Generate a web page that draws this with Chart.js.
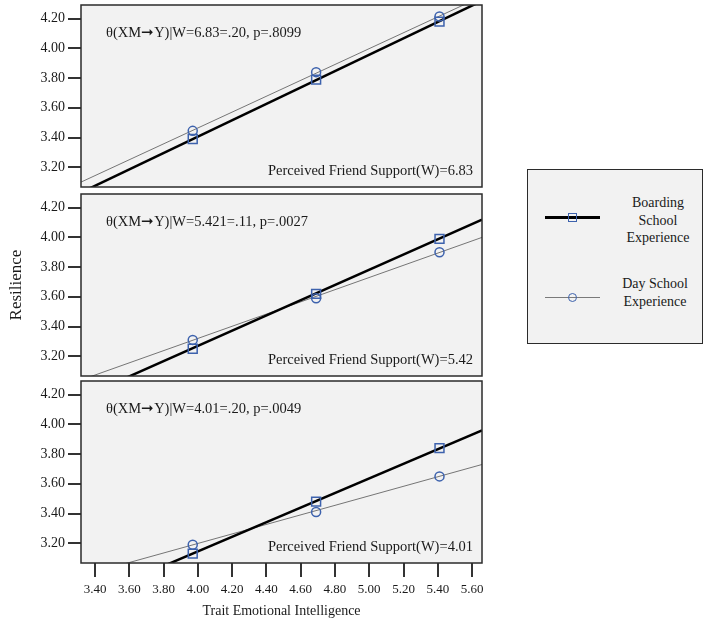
<!DOCTYPE html>
<html>
<head>
<meta charset="utf-8">
<script src="https://cdn.jsdelivr.net/npm/chart.js@4.4.1/dist/chart.umd.min.js"></script>
<style>
    body { margin: 0; background: #fff; width: 708px; height: 624px; position: relative; overflow: hidden;
           font-family: "Liberation Serif", "Times New Roman", serif; color: #1a1a1a; }
    canvas { position: absolute; left: 0; }
    #legend { position: absolute; left: 527px; top: 169px; width: 176px; height: 175px; box-sizing: border-box;
              border: 1.5px solid #2b2b2b; background: #f2f2f2; }
    .sample { position: absolute; left: 17px; width: 55px; }
    .mark { position: absolute; box-sizing: border-box; border: 1.5px solid #3d62ad; }
    .entry { position: absolute; width: 110px; text-align: center; font-size: 14px; line-height: 17.5px; }
</style>
</head>
<body>
<canvas id="panelHigh" width="490" height="190" style="top:0"></canvas>
<canvas id="panelMid" width="490" height="188" style="top:190px"></canvas>
<canvas id="panelLow" width="490" height="246" style="top:378px"></canvas>

<div id="legend">
    <div class="sample" style="top:46px;height:2.5px;background:#000"></div>
    <div class="mark" style="left:40px;top:43px;width:9px;height:9px"></div>
    <div class="entry" style="left:75px;top:24px">Boarding<br>School<br>Experience</div>
    <div class="sample" style="top:127px;height:1px;background:#7a7a7a"></div>
    <div class="mark" style="left:40px;top:123px;width:9px;height:9px;border-radius:50%"></div>
    <div class="entry" style="left:72px;top:105px">Day School<br>Experience</div>
</div>

<script>
const teiValues = [3.97, 4.69, 5.41];
const teiRange = [3.318, 5.658];
const resilienceRange = [3.067, 4.292];
const xTicks = [3.4, 3.6, 3.8, 4.0, 4.2, 4.4, 4.6, 4.8, 5.0, 5.2, 5.4, 5.6];
const yTicks = [3.2, 3.4, 3.6, 3.8, 4.0, 4.2];

const supportLevels = ['6.83', '5.42', '4.01'];
const effectLabels = [
    'θ(XM➞Y)|W=6.83=.20, p=.8099',
    'θ(XM➞Y)|W=5.421=.11, p=.0027',
    'θ(XM➞Y)|W=4.01=.20, p=.0049'
];

// moyennes aux trois niveaux de X
const boardingHigh = [3.39, 3.79, 4.18];
const boardingMid = [3.25, 3.62, 3.99];
const boardingLow = [3.13, 3.48, 3.84];
const dayHigh = [3.445, 3.84, 4.215];
const dayMid = [3.31, 3.59, 3.90];
const dayLow = [3.19, 3.41, 3.65];

// valeurs des droites aux bords de l'axe X
const boardingFitHigh = [3.03, 4.32];
const boardingFitMid = [2.92, 4.12];
const boardingFitLow = [2.81, 3.96];
const dayFitHigh = [3.10, 4.35];
const dayFitMid = [3.04, 4.00];
const dayFitLow = [2.98, 3.73];

const FONT = '"Liberation Serif", "Times New Roman", serif';
const BLUE = '#3d62ad';

const panelPlugin = {
    id: 'panel',
    beforeDraw(chart) {
        const { ctx, chartArea: a } = chart;
        ctx.save();
        ctx.fillStyle = '#f2f2f2';
        ctx.fillRect(a.left, a.top, a.right - a.left, a.bottom - a.top);
        ctx.restore();
    },
    beforeDatasetsDraw(chart, args, opts) {
        const { ctx, chartArea: a } = chart;
        ctx.save();
        ctx.font = '14.5px ' + FONT;
        ctx.fillStyle = '#1a1a1a';
        ctx.textBaseline = 'middle';
        ctx.textAlign = 'left';
        ctx.fillText(opts.effect, a.left + 25, a.top + 28);
        ctx.textAlign = 'right';
        ctx.fillText('Perceived Friend Support(W)=' + opts.level, a.right - 9, a.bottom - 16);
        ctx.restore();
    },
    afterDraw(chart) {
        const { ctx, chartArea: a } = chart;
        ctx.save();
        ctx.strokeStyle = '#2b2b2b';
        ctx.lineWidth = 1.5;
        ctx.strokeRect(a.left, a.top, a.right - a.left, a.bottom - a.top);
        ctx.restore();
    }
};

function toPoints(xs, ys) {
    return xs.map((x, i) => ({ x, y: ys[i] }));
}

function desenharPainel(id, i, boarding, day, boardingFit, dayFit, padding, bottom, middle) {
    const ctx = document.getElementById(id).getContext('2d');
    new Chart(ctx, {
        type: 'scatter',
        data: {
            datasets: [
                {
                    label: 'Boarding School Experience',
                    data: toPoints(teiValues, boarding),
                    pointStyle: 'rect',
                    pointRadius: 6.3,
                    pointBorderWidth: 1.5,
                    pointBorderColor: BLUE,
                    pointBackgroundColor: 'rgba(0,0,0,0)'
                },
                {
                    label: 'Day School Experience',
                    data: toPoints(teiValues, day),
                    pointStyle: 'circle',
                    pointRadius: 4.5,
                    pointBorderWidth: 1.5,
                    pointBorderColor: BLUE,
                    pointBackgroundColor: 'rgba(0,0,0,0)'
                },
                {
                    data: toPoints(teiRange, boardingFit),
                    showLine: true,
                    borderColor: '#000',
                    borderWidth: 2.5,
                    pointRadius: 0,
                    clip: 0
                },
                {
                    data: toPoints(teiRange, dayFit),
                    showLine: true,
                    borderColor: '#757575',
                    borderWidth: 1,
                    pointRadius: 0,
                    clip: 0
                }
            ]
        },
        options: {
            responsive: false,
            animation: false,
            events: [],
            layout: { padding, autoPadding: false },
            plugins: {
                legend: { display: false },
                tooltip: { enabled: false },
                panel: { effect: effectLabels[i], level: supportLevels[i] }
            },
            scales: {
                x: {
                    type: 'linear',
                    display: bottom,
                    min: teiRange[0],
                    max: teiRange[1],
                    afterBuildTicks: s => { s.ticks = xTicks.map(v => ({ value: v })); },
                    afterFit: s => {
                        if (bottom) s.height = 61;
                        s.paddingLeft = 0;
                        s.paddingRight = 0;
                    },
                    ticks: {
                        autoSkip: false, maxRotation: 0, padding: 5, color: '#1a1a1a',
                        font: { family: FONT, size: 13 },
                        callback: v => v.toFixed(2)
                    },
                    grid: { drawOnChartArea: false, tickLength: 14, color: '#333', lineWidth: 2 },
                    border: { display: false },
                    title: {
                        display: true, text: 'Trait Emotional Intelligence', color: '#1a1a1a',
                        font: { family: FONT, size: 14 }, padding: { top: 4, bottom: 4 }
                    }
                },
                y: {
                    min: resilienceRange[0],
                    max: resilienceRange[1],
                    afterBuildTicks: s => { s.ticks = yTicks.map(v => ({ value: v })); },
                    afterFit: s => {
                        s.width = 81;
                        s.paddingTop = 0;
                        s.paddingBottom = 0;
                    },
                    ticks: {
                        autoSkip: false, padding: 3, color: '#1a1a1a',
                        font: { family: FONT, size: 14 },
                        callback: v => v.toFixed(2)
                    },
                    grid: { drawOnChartArea: false, tickLength: 13, color: '#333', lineWidth: 2 },
                    border: { display: false },
                    title: {
                        display: middle, text: 'Resilience', color: '#1a1a1a',
                        font: { family: FONT, size: 17 }, padding: { top: 6, bottom: 0 }
                    }
                }
            }
        },
        plugins: [panelPlugin]
    });
}

desenharPainel('panelHigh', 0, boardingHigh, dayHigh, boardingFitHigh, dayFitHigh,
    { top: 5, bottom: 3, left: 0, right: 8 }, false, false);
desenharPainel('panelMid', 1, boardingMid, dayMid, boardingFitMid, dayFitMid,
    { top: 4, bottom: 2, left: 0, right: 8 }, false, true);
desenharPainel('panelLow', 2, boardingLow, dayLow, boardingFitLow, dayFitLow,
    { top: 3, bottom: 0, left: 0, right: 8 }, true, false);
</script>
</body>
</html>
